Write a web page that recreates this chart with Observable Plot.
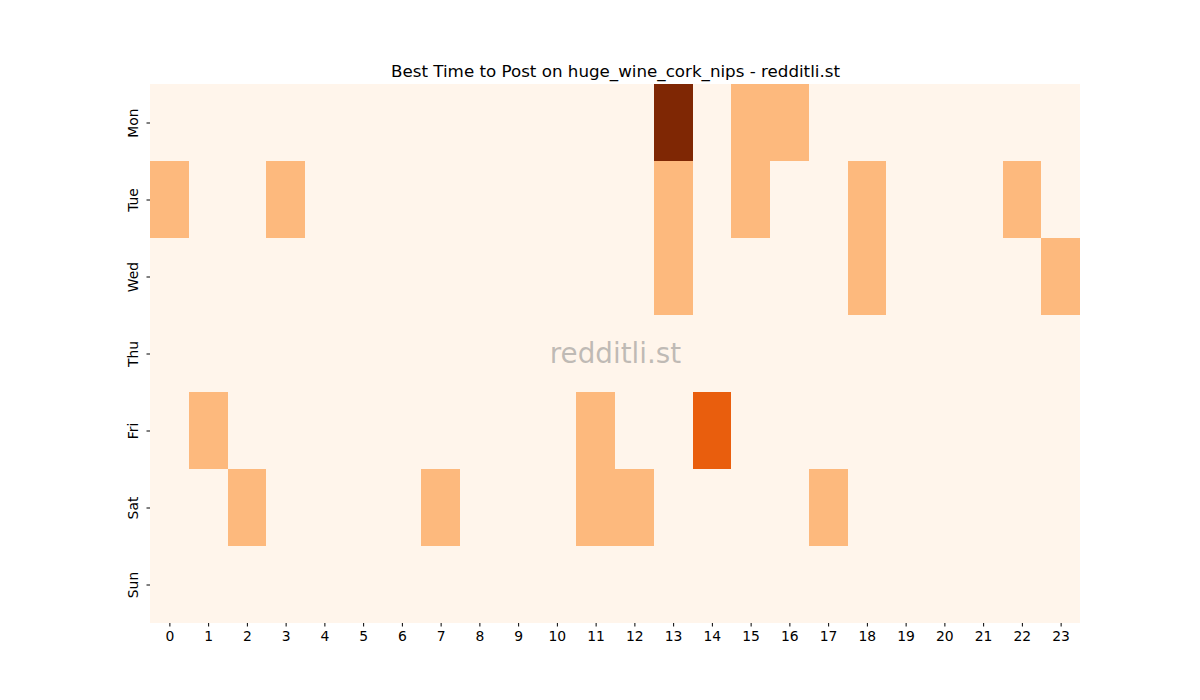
<!DOCTYPE html>
<html>
<head>
<meta charset="utf-8">
<script src="https://cdn.jsdelivr.net/npm/d3@7"></script>
<script src="https://cdn.jsdelivr.net/npm/@observablehq/plot@0.6"></script>
<style>
  html, body { margin: 0; padding: 0; background: #fff; }
  #chart svg { display: block; font-family: "DejaVu Sans", sans-serif; }
</style>
</head>
<body>
<div id="chart"></div>
<script>
const days = ["Mon", "Tue", "Wed", "Thu", "Fri", "Sat", "Sun"];
const hours = d3.range(24);
const mon = [0,0,0,0,0,0,0,0,0,0,0,0,0,3,0,1,1,0,0,0,0,0,0,0];
const tue = [1,0,0,1,0,0,0,0,0,0,0,0,0,1,0,1,0,0,1,0,0,0,1,0];
const wed = [0,0,0,0,0,0,0,0,0,0,0,0,0,1,0,0,0,0,1,0,0,0,0,1];
const thu = [0,0,0,0,0,0,0,0,0,0,0,0,0,0,0,0,0,0,0,0,0,0,0,0];
const fri = [0,1,0,0,0,0,0,0,0,0,0,1,0,0,2,0,0,0,0,0,0,0,0,0];
const sat = [0,0,1,0,0,0,0,1,0,0,0,1,1,0,0,0,0,1,0,0,0,0,0,0];
const sun = [0,0,0,0,0,0,0,0,0,0,0,0,0,0,0,0,0,0,0,0,0,0,0,0];
const colorLevels = [0, 1, 2, 3];
const colorRange = ["#fff5eb", "#fdb97d", "#e95e0d", "#7f2704"];
const title = "Best Time to Post on huge_wine_cork_nips - redditli.st";
const watermark = "redditli.st";

const rows = [mon, tue, wed, thu, fri, sat, sun];
const data = [];
rows.forEach((vals, i) => vals.forEach((v, h) => data.push({day: days[i], hour: h, value: v})));

const chart = Plot.plot({
  width: 1200,
  height: 700,
  marginLeft: 150,
  marginRight: 120,
  marginTop: 84,
  marginBottom: 77,
  style: {fontFamily: "DejaVu Sans, sans-serif", fontSize: "13.9px", color: "#000", background: "#fff"},
  x: {type: "band", domain: hours, padding: 0, round: false, label: null},
  y: {type: "band", domain: days, padding: 0, round: false, label: null},
  color: {type: "ordinal", domain: colorLevels, range: colorRange},
  marks: [
    Plot.cell(data, {x: "hour", y: "day", fill: "value", shapeRendering: "crispEdges"}),
    Plot.axisX({tickSize: 3.5, tickPadding: 4.5, label: null, stroke: "#000"}),
    Plot.axisY({tickSize: 3.5, tickFormat: () => "", label: null, stroke: "#000"}),
    Plot.text(days, {y: d => d, text: d => d, frameAnchor: "left", dx: -17, rotate: -90, textAnchor: "middle", lineAnchor: "middle", fill: "#000", fontSize: 13.9}),
    Plot.text([watermark], {frameAnchor: "middle", text: d => d, fontSize: 27.8, fill: "#808080", fillOpacity: 0.5}),
    Plot.text([title], {frameAnchor: "top", text: d => d, dy: -8, fontSize: 16.7, fill: "#000", lineAnchor: "bottom"})
  ]
});
document.getElementById("chart").appendChild(chart);
</script>
</body>
</html>
